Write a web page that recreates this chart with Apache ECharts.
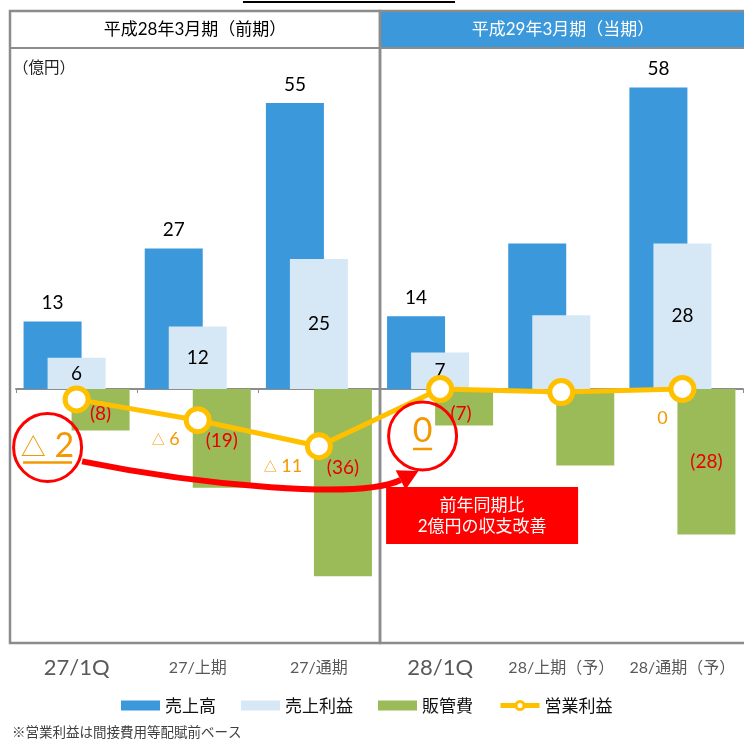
<!DOCTYPE html>
<html><head><meta charset="utf-8">
<script src="https://cdn.jsdelivr.net/npm/echarts@6/dist/echarts.min.js"></script>
<style>html,body{margin:0;padding:0;background:#fff}#c{width:744px;height:740px}</style>
</head><body><div id="c"></div>
<script>
// ---- data ----
const categories = ['27/1Q', '27/上期', '27/通期', '28/1Q', '28/上期（予）', '28/通期（予）'];
const bigCategories = [true, false, false, true, false, false];
const seriesNames = ['売上高', '売上利益', '販管費', '営業利益'];
const sales = [13, 27, 55, 14, 28, 58];
const grossProfit = [6, 12, 25, 7, 14.2, 28];
const sgaExpenses = [-8, -19, -36, -7, -14.7, -28];
const operatingIncome = [-2, -6, -11, 0, -0.6, 0];
const labelShown = [true, true, true, true, false, true];
const periodHeaders = ['平成28年3月期（前期）', '平成29年3月期（当期）'];
const unitLabel = '（億円）';
const noteText = '※営業利益は間接費用等配賦前ベース';
const calloutLines = ['前年同期比', '2億円の収支改善'];

// ---- styles ----
const FONT = "Lato, 'Noto Sans CJK JP', sans-serif";
const CJK = "'Noto Sans CJK JP', sans-serif";
const BLUE = '#3A98DB', LIGHT = '#D6E8F6', GREEN = '#9BBB59', GOLD = '#FFC000';
const ORANGE = '#F39800', RED = '#FF0000', BORDER = '#8C8C8C';

const fmtIncomeRich = v => v < 0 ? '{t|△} ' + Math.abs(v) : String(v);
const incomeLabelOffsets = [null, [-32, 19], [-36, 20], null, null, [-20, 29]];
const sgaLabelOffsets = [[0, 4], [0, 2], [0, -15], [-3, 7], [0, 0], [0, 0]];

const chart = echarts.init(document.getElementById('c'));

const option = {
  animation: false,
  textStyle: { fontFamily: FONT },
  grid: { left: 16, right: 1, top: 51, bottom: 91 },
  legend: {
    left: 116, top: 692, itemWidth: 39, itemHeight: 10, itemGap: 25,
    textStyle: { fontSize: 17, color: '#111', fontFamily: CJK },
    data: [
      { name: seriesNames[0], icon: 'rect' },
      { name: seriesNames[1], icon: 'rect' },
      { name: seriesNames[2], icon: 'rect' },
      { name: seriesNames[3], itemStyle: { color: '#fff', borderColor: GOLD, borderWidth: 3 }, lineStyle: { color: GOLD, width: 5 } }
    ]
  },
  xAxis: [
    {
      type: 'category', data: categories,
      axisLine: { onZero: true, lineStyle: { color: BORDER, width: 2 } },
      axisTick: { show: true, length: 4, lineStyle: { color: BORDER } },
      axisLabel: { show: false }
    },
    {
      type: 'category', data: categories, position: 'bottom',
      axisLine: { show: false }, axisTick: { show: false },
      axisLabel: {
        margin: 19, verticalAlign: 'middle', interval: 0,
        formatter: (v, i) => bigCategories[i] ? '{big|' + v + '}' : '{small|' + v + '}',
        rich: {
          big: { fontSize: 22, color: '#595959', fontFamily: FONT, lineHeight: 30 },
          small: { fontSize: 16, color: '#595959', fontFamily: FONT, lineHeight: 30 }
        }
      }
    }
  ],
  yAxis: {
    type: 'value', min: -50, max: 65,
    axisLine: { show: false }, axisTick: { show: false },
    axisLabel: { show: false }, splitLine: { show: false }
  },
  series: [
    {
      name: seriesNames[0], type: 'bar', barWidth: 58, barGap: '-58.6%', z: 2,
      itemStyle: { color: BLUE },
      data: sales.map((v, i) => ({ value: v, label: { show: labelShown[i] } })),
      label: { position: 'top', distance: 9, fontSize: 19, color: '#000', fontFamily: FONT }
    },
    {
      name: seriesNames[1], type: 'bar', barWidth: 58, barGap: '-58.6%', z: 2,
      itemStyle: { color: LIGHT },
      data: grossProfit.map((v, i) => ({ value: v, label: { show: labelShown[i] } })),
      label: { position: 'inside', fontSize: 19, color: '#000', fontFamily: FONT }
    },
    {
      name: seriesNames[2], type: 'bar', barWidth: 58, barGap: '-58.6%', z: 2,
      itemStyle: { color: GREEN },
      data: sgaExpenses.map((v, i) => ({ value: v, label: { show: labelShown[i], offset: sgaLabelOffsets[i] } })),
      label: {
        position: 'inside', fontSize: 19, color: '#E80000', fontFamily: FONT,
        formatter: p => '(' + Math.abs(p.value) + ')'
      }
    },
    {
      name: seriesNames[3], type: 'line', z: 5,
      symbol: 'circle', symbolSize: 23,
      lineStyle: { color: GOLD, width: 5 },
      itemStyle: { color: '#fff', borderColor: GOLD, borderWidth: 5 },
      data: operatingIncome.map((v, i) => ({
        value: v,
        label: incomeLabelOffsets[i] ? { show: true, offset: incomeLabelOffsets[i] } : { show: false }
      })),
      label: {
        position: 'inside', fontSize: 18, color: ORANGE, fontFamily: FONT,
        formatter: p => fmtIncomeRich(p.value),
        rich: { t: { fontSize: 13, color: ORANGE, fontFamily: CJK } }
      }
    }
  ]
};
chart.setOption(option);

// ---- annotations positioned from data points ----
const px = i => chart.convertToPixel({ seriesIndex: 3 }, [i, operatingIncome[i]]);
const p0 = px(0), p3 = px(3);
const c1 = [p0[0] - 29, p0[1] + 48];
const c2 = [p3[0] - 17.5, p3[1] + 47];

function bigLabel(c, text, ulHalf, textDy, ulDy) {
  return [
    { type: 'circle', z: 100, shape: { cx: c[0], cy: c[1], r: 34 }, style: { fill: 'rgba(0,0,0,0)', stroke: RED, lineWidth: 3 } },
    { type: 'text', z: 101, x: c[0], y: c[1] + textDy,
      style: { text: text, fontSize: 34, fontFamily: FONT, fill: ORANGE, align: 'center', verticalAlign: 'middle',
        rich: { t: { fontSize: 25, fill: ORANGE, fontFamily: CJK } } } },
    { type: 'line', z: 101, shape: { x1: c[0] - ulHalf, y1: c[1] + ulDy, x2: c[0] + ulHalf, y2: c[1] + ulDy },
      style: { stroke: ORANGE, lineWidth: 2.5 } }
  ];
}

const arrowStart = [c1[0] + 34.5, c1[1] + 14];
const arrowEnd = [c2[0] - 22, c2[1] + 44];
const tang = [0.894, -0.447], perp = [0.447, 0.894];
const tip = [arrowEnd[0] + 20 * tang[0], arrowEnd[1] + 20 * tang[1]];

const boxX = c2[0] - 36.5, boxY = c2[1] + 51, boxW = 192, boxH = 57;

const graphics = [
  // title underline (title clipped at top edge)
  { type: 'line', shape: { x1: 243, y1: 2, x2: 455, y2: 2 }, style: { stroke: '#000', lineWidth: 2 } },
  // headers
  { type: 'rect', z: 1, shape: { x: 10, y: 11, width: 370, height: 37 }, style: { fill: '#fff', stroke: BORDER, lineWidth: 2 } },
  { type: 'rect', z: 1, shape: { x: 380, y: 11, width: 370, height: 37 }, style: { fill: BLUE, stroke: BORDER, lineWidth: 2 } },
  { type: 'text', z: 2, x: 195, y: 30, style: { text: periodHeaders[0], fontSize: 17, fontFamily: FONT, fill: '#000', align: 'center', verticalAlign: 'middle' } },
  { type: 'text', z: 2, x: 563, y: 30, style: { text: periodHeaders[1], fontSize: 17, fontFamily: FONT, fill: '#fff', align: 'center', verticalAlign: 'middle' } },
  // panels
  { type: 'rect', z: 1, shape: { x: 10, y: 11, width: 370, height: 632 }, style: { fill: 'rgba(0,0,0,0)', stroke: BORDER, lineWidth: 2.5 } },
  { type: 'rect', z: 1, shape: { x: 380, y: 11, width: 370, height: 632 }, style: { fill: 'rgba(0,0,0,0)', stroke: BORDER, lineWidth: 2.5 } },
  // unit
  { type: 'text', x: 13, y: 67, style: { text: unitLabel, fontSize: 15.5, fontFamily: CJK, fill: '#222', verticalAlign: 'middle' } },
  // footnote
  { type: 'text', x: 12, y: 732, style: { text: noteText, fontSize: 13.5, fontFamily: CJK, fill: '#404040', verticalAlign: 'middle' } },
  // arrow
  { type: 'bezierCurve', z: 99, shape: {
      x1: arrowStart[0], y1: arrowStart[1], cpx1: 200, cpy1: arrowStart[1] + 24,
      cpx2: arrowEnd[0] - 40, cpy2: arrowEnd[1] + 20, x2: arrowEnd[0], y2: arrowEnd[1] },
    style: { stroke: RED, lineWidth: 6, fill: null } },
  { type: 'polygon', z: 99, shape: { points: [
      tip,
      [arrowEnd[0] + 11 * perp[0], arrowEnd[1] + 11 * perp[1]],
      [arrowEnd[0] - 11 * perp[0], arrowEnd[1] - 11 * perp[1]] ] },
    style: { fill: RED } },
  // callout box
  { type: 'rect', z: 99, shape: { x: boxX, y: boxY, width: boxW, height: boxH }, style: { fill: RED } },
  { type: 'text', z: 100, x: boxX + boxW / 2, y: boxY + 19, style: { text: calloutLines[0], fontSize: 17, fontFamily: FONT, fill: '#fff', align: 'center', verticalAlign: 'middle' } },
  { type: 'text', z: 100, x: boxX + boxW / 2, y: boxY + 40, style: { text: calloutLines[1], fontSize: 17, fontFamily: FONT, fill: '#fff', align: 'center', verticalAlign: 'middle' } }
].concat(
  bigLabel(c1, fmtIncomeRich(operatingIncome[0]), 24.5, -1, 15),
  bigLabel(c2, fmtIncomeRich(operatingIncome[3]), 9.5, -5, 13)
);

chart.setOption({ graphic: graphics });
</script>
</body></html>
